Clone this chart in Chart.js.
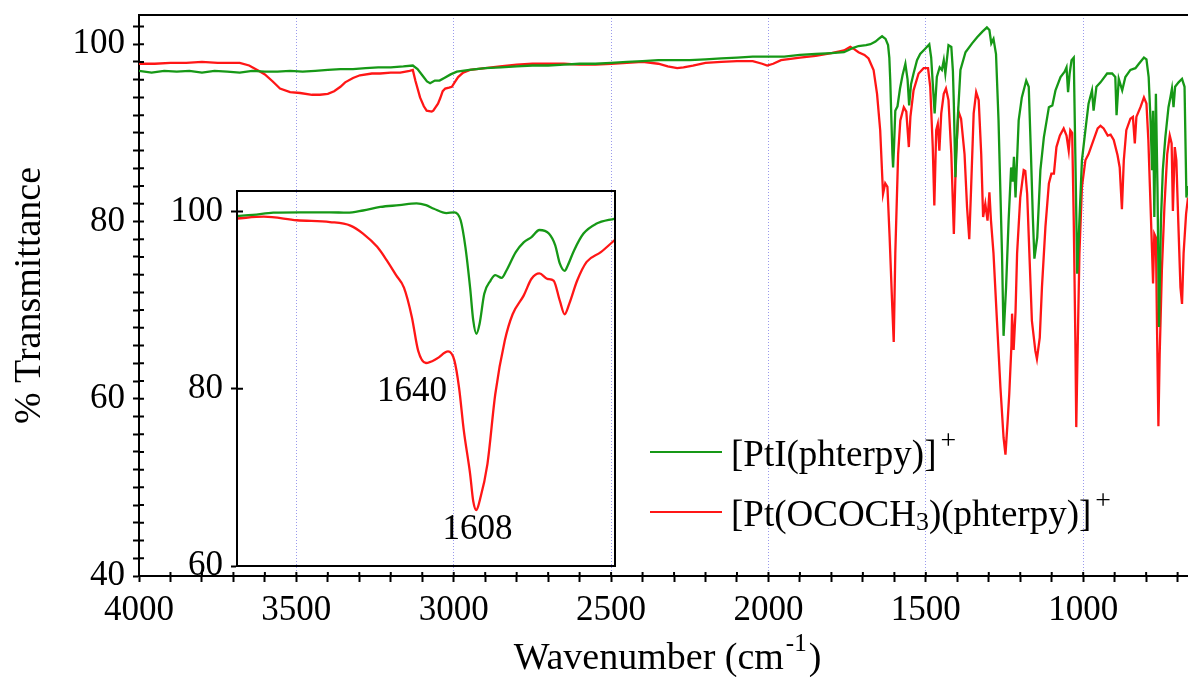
<!DOCTYPE html>
<html>
<head>
<meta charset="utf-8">
<title>IR spectra</title>
<script src="https://cdn.jsdelivr.net/npm/chart.js@4.4.0/dist/chart.umd.min.js"></script>
<style>
  html, body { margin: 0; padding: 0; background: #fff; }
  #wrap { position: relative; width: 1188px; height: 677px; overflow: hidden; }
  #main { position: absolute; left: 0; top: 0; }
  #inset { position: absolute; left: 150px; top: 181px; }
</style>
</head>
<body>
<div id="wrap">
  <canvas id="main" width="1188" height="677"></canvas>
  <canvas id="inset" width="470" height="410"></canvas>
</div>
<script>
// [PtI(phterpy)]+ spectrum, wavenumber (cm-1) / % transmittance
const ptiWn = [
  4000, 3960, 3920, 3880, 3840, 3800, 3760, 3720, 3680, 3640,
  3600, 3560, 3520, 3480, 3440, 3400, 3360, 3320, 3280, 3240,
  3200, 3160, 3130, 3115, 3100, 3085, 3075, 3060, 3045, 3030,
  3010, 2990, 2950, 2900, 2850, 2800, 2750, 2700, 2650, 2600,
  2550, 2500, 2450, 2400, 2350, 2300, 2250, 2200, 2150, 2100,
  2050, 2000, 1950, 1900, 1850, 1800, 1760, 1730, 1714, 1690,
  1676, 1660, 1650, 1639, 1628, 1620, 1616, 1613, 1609, 1606,
  1604, 1601, 1597, 1590, 1582, 1574, 1565, 1558, 1553, 1547,
  1539, 1528, 1518, 1502, 1489, 1483, 1478, 1472, 1465, 1456,
  1449, 1443, 1438, 1428, 1419, 1414, 1411, 1406, 1399, 1390,
  1374, 1353, 1337, 1321, 1306, 1298, 1292, 1285, 1277, 1269,
  1258, 1253, 1245, 1237, 1229, 1224, 1220, 1215, 1205, 1195,
  1181, 1173, 1166, 1160, 1155, 1146, 1136, 1125, 1109, 1098,
  1088, 1072, 1059, 1053, 1048, 1043, 1037, 1030, 1025, 1019,
  1012, 1004, 993, 983, 972, 967, 958, 945, 924, 908,
  898, 894, 887, 876, 866, 850, 834, 823, 807, 799,
  792, 786, 781, 778, 774, 769, 764, 759, 753, 747,
  739, 729, 723, 718, 713, 708, 697, 686, 678, 672,
  667
];
const ptiT = [
  97.0, 96.8, 97.0, 96.9, 97.0, 96.8, 97.0, 96.9, 96.8, 97.0,
  96.9, 96.9, 97.0, 96.9, 97.0, 97.1, 97.2, 97.2, 97.3, 97.4,
  97.4, 97.5, 97.6, 97.2, 96.5, 95.8, 95.6, 95.9, 95.9, 96.2,
  96.6, 96.9, 97.1, 97.3, 97.4, 97.5, 97.6, 97.6, 97.7, 97.8,
  97.8, 97.9, 98.0, 98.1, 98.2, 98.2, 98.2, 98.3, 98.4, 98.5,
  98.6, 98.6, 98.6, 98.8, 98.9, 99.0, 99.1, 99.6, 99.8, 99.9,
  100.0, 100.3, 100.6, 100.9, 100.6, 99.9, 98.5, 95.9, 91.0, 87.5,
  86.1, 88.5, 92.5, 93.0, 95.0, 96.5, 97.8, 96.0, 93.1, 95.5,
  96.7, 98.2, 98.9, 99.5, 100.0, 98.5, 95.6, 92.2, 96.3, 97.4,
  97.1, 98.2, 96.7, 99.9, 99.7, 97.0, 93.3, 85.0, 91.4, 97.1,
  99.1, 100.1, 100.8, 101.4, 101.9, 101.6, 100.1, 100.6, 98.9, 91.4,
  76.4, 67.1, 72.6, 80.1, 86.1, 84.5, 87.3, 82.7, 91.4, 94.0,
  95.9, 95.2, 87.6, 80.5, 75.8, 78.2, 85.8, 89.5, 92.9, 93.1,
  94.8, 96.3, 96.9, 97.4, 94.6, 96.7, 98.2, 98.5, 87.6, 74.1,
  80.1, 86.9, 90.3, 93.3, 94.8, 92.5, 95.2, 95.7, 96.7, 96.7,
  96.3, 92.0, 96.1, 94.8, 96.3, 97.1, 97.3, 97.8, 98.5, 98.3,
  96.3, 91.4, 85.8, 92.5, 80.5, 94.4, 83.9, 68.1, 80.1, 85.8,
  89.5, 92.9, 94.0, 95.0, 92.9, 95.2, 95.7, 96.1, 95.2, 82.7,
  84.0
];

// [Pt(OCOCH3)(phterpy)]+ spectrum
const acetateWn = [
  4000, 3950, 3900, 3850, 3800, 3750, 3700, 3680, 3650, 3620,
  3600, 3575, 3552, 3520, 3488, 3450, 3425, 3400, 3380, 3360,
  3345, 3320, 3298, 3260, 3234, 3200, 3170, 3140, 3130, 3122,
  3107, 3095, 3086, 3070, 3065, 3050, 3043, 3035, 3027, 3015,
  3006, 2995, 2986, 2970, 2948, 2900, 2853, 2800, 2750, 2700,
  2650, 2600, 2550, 2500, 2450, 2400, 2350, 2320, 2290, 2270,
  2240, 2200, 2150, 2100, 2050, 2020, 2004, 1985, 1960, 1900,
  1850, 1800, 1760, 1740, 1730, 1714, 1695, 1682, 1666, 1655,
  1645, 1636, 1629, 1622, 1615, 1607, 1602, 1597, 1588, 1581,
  1570, 1562, 1554, 1549, 1539, 1523, 1507, 1493, 1486, 1478,
  1473, 1467, 1462, 1457, 1451, 1443, 1436, 1428, 1419, 1411,
  1404, 1396, 1388, 1377, 1369, 1362, 1356, 1348, 1340, 1332,
  1324, 1318, 1311, 1304, 1298, 1293, 1285, 1274, 1263, 1253,
  1247, 1240, 1235, 1228, 1226, 1221, 1215, 1210, 1200, 1189,
  1184, 1178, 1171, 1163, 1152, 1147, 1138, 1131, 1120, 1109,
  1101, 1093, 1085, 1074, 1062, 1053, 1046, 1041, 1035, 1030,
  1025, 1022, 1018, 1012, 1004, 993, 983, 967, 954, 945,
  935, 922, 913, 903, 891, 884, 877, 871, 863, 850,
  842, 836, 831, 818, 807, 799, 793, 788, 781, 778,
  774, 769, 765, 761, 757, 750, 742, 733, 725, 719,
  715, 709, 704, 698, 691, 686, 681, 673, 667
];
const acetateT = [
  97.8, 97.8, 97.9, 97.9, 98.0, 97.9, 97.9, 97.9, 97.6, 97.0,
  96.6, 95.8, 95.0, 94.6, 94.5, 94.3, 94.3, 94.4, 94.7, 95.2,
  95.7, 96.2, 96.5, 96.7, 96.7, 96.8, 96.8, 97.0, 97.1, 95.9,
  94.0, 93.0, 92.5, 92.4, 92.5, 93.3, 93.9, 94.7, 95.0, 95.1,
  95.2, 95.8, 96.3, 96.8, 97.1, 97.3, 97.5, 97.7, 97.8, 97.8,
  97.8, 97.7, 97.7, 97.8, 97.9, 98.0, 97.8, 97.5, 97.3, 97.4,
  97.6, 97.9, 98.0, 98.1, 98.1, 97.8, 97.6, 97.8, 98.2, 98.5,
  98.7, 99.0, 99.3, 99.7, 99.5, 99.1, 98.8, 98.4, 97.1, 94.4,
  90.3, 83.1, 84.3, 83.9, 78.2, 70.7, 66.4, 76.4, 87.6, 91.4,
  92.9, 92.4, 88.4, 91.8, 94.8, 96.7, 97.3, 97.3, 95.2, 88.4,
  81.8, 90.3, 91.0, 88.0, 92.2, 94.4, 95.0, 93.7, 87.6, 78.6,
  87.6, 92.4, 91.6, 87.6, 81.6, 78.0, 83.9, 92.2, 94.6, 93.7,
  87.6, 80.5, 82.0, 80.1, 83.3, 80.1, 76.4, 68.8, 61.3, 55.6,
  53.7, 57.5, 60.5, 66.0, 69.6, 65.5, 69.8, 76.4, 82.7, 85.8,
  85.7, 83.1, 76.4, 68.8, 65.4, 64.5, 66.9, 72.6, 79.4, 84.3,
  85.4, 85.4, 88.4, 89.7, 90.5, 89.7, 88.0, 90.3, 90.0, 80.1,
  66.9, 56.8, 65.0, 76.4, 83.9, 86.9, 87.6, 89.2, 90.5, 90.8,
  90.5, 89.7, 89.8, 89.2, 87.5, 86.1, 81.4, 86.9, 90.3, 91.6,
  91.8, 88.8, 91.8, 92.9, 94.0, 93.3, 89.2, 83.9, 76.4, 73.0,
  78.6, 78.2, 66.9, 56.9, 65.0, 74.5, 81.6, 87.6, 89.7, 88.8,
  81.2, 88.4, 86.9, 80.1, 72.6, 70.7, 76.4, 80.9, 82.7
];

// expanded C=N / C=O region
const insetPtiWn = [
  1760, 1750, 1737, 1720, 1701, 1690, 1680, 1669, 1657, 1646,
  1640, 1635, 1627, 1622, 1618, 1615, 1612, 1610, 1608, 1606,
  1603, 1599, 1596, 1592, 1589, 1583, 1578, 1573, 1568, 1562,
  1558, 1555, 1552, 1550, 1546, 1540, 1532, 1520
];
const insetPtiT = [
  99.5, 99.6, 99.85, 99.9, 99.9, 99.85, 100.1, 100.5, 100.7, 100.9,
  100.7, 100.3, 99.8, 99.9, 99.0, 96.0, 91.4, 87.7, 86.2, 87.3,
  90.7, 92.2, 92.8, 92.5, 93.3, 95.4, 96.5, 97.1, 97.9, 97.5,
  96.2, 94.1, 93.3, 93.9, 95.6, 97.5, 98.6, 99.2
];
const insetAcetateWn = [
  1760, 1743, 1722, 1701, 1688, 1680, 1671, 1665, 1659, 1654,
  1649, 1645, 1640, 1633, 1626, 1622, 1619, 1616, 1612, 1610,
  1608, 1606, 1601, 1596, 1590, 1585, 1578, 1573, 1568, 1563,
  1559, 1555, 1552, 1549, 1544, 1538, 1529, 1520
];
const insetAcetateT = [
  99.2, 99.4, 99.0, 98.8, 98.4, 97.5, 96.0, 94.5, 92.8, 91.4,
  88.1, 84.3, 82.9, 83.4, 84.2, 83.2, 80.1, 75.3, 70.4, 67.3,
  66.3, 67.3, 71.5, 79.4, 85.4, 88.4, 90.5, 92.4, 93.0, 92.4,
  92.2, 89.9, 88.4, 89.6, 92.2, 94.3, 95.4, 96.8
];

const xTickLabels = [4000, 3500, 3000, 2500, 2000, 1500, 1000];
const yTickLabels = [40, 60, 80, 100];
const insetYTickLabels = [60, 80, 100];
const peakLabels = [1640, 1608];

const PTI_COLOR = 'rgb(22, 152, 22)';
const ACETATE_COLOR = 'rgb(255, 22, 22)';
const SERIF = '"Liberation Serif", "Times New Roman", serif';

function toPoints(xs, ys) {
  return xs.map((x, i) => ({ x: x, y: ys[i] }));
}

// keep the plot box where it is: no extra room for overhanging end labels
function noOverhang(scale) {
  scale.paddingTop = 0;
  scale.paddingBottom = 0;
  scale.paddingLeft = 0;
  scale.paddingRight = 0;
}

// the half of each tick mark that points into the plot
function innerTicks(ctx, chart, xLen, yLen) {
  const a = chart.chartArea;
  const { x, y } = chart.scales;
  ctx.beginPath();
  if (x.options.display) {
    x.ticks.forEach(t => {
      const px = x.getPixelForValue(t.value);
      ctx.moveTo(px, a.bottom);
      ctx.lineTo(px, a.bottom - xLen);
    });
  }
  y.ticks.forEach(t => {
    const py = y.getPixelForValue(t.value);
    ctx.moveTo(a.left, py);
    ctx.lineTo(a.left + yLen, py);
  });
  ctx.stroke();
}

// text with optional sub/superscript pieces, returns end x
function drawRich(ctx, parts, x, baseline, size) {
  parts.forEach(p => {
    let fs = size, dy = 0;
    if (p.sub) { fs = size * 0.7; dy = size * 0.12; }
    if (p.sup) { fs = size * 0.75; dy = -size * 0.45; x += 4; }
    ctx.font = fs + 'px ' + SERIF;
    ctx.fillText(p.t, x, baseline + dy);
    x += ctx.measureText(p.t).width;
  });
  return x;
}

const legendItems = [
  { color: PTI_COLOR, parts: [{ t: '[PtI(phterpy)]' }, { t: '+', sup: true }] },
  { color: ACETATE_COLOR, parts: [{ t: '[Pt(OCOCH' }, { t: '3', sub: true }, { t: ')(phterpy)]' }, { t: '+', sup: true }] }
];

const mainDecor = {
  id: 'mainDecor',
  afterDraw(chart) {
    const ctx = chart.ctx;
    const a = chart.chartArea;
    ctx.save();
    ctx.strokeStyle = '#000';
    ctx.lineWidth = 2;
    ctx.beginPath();
    ctx.moveTo(a.left - 1, a.top);
    ctx.lineTo(a.right, a.top);
    ctx.stroke();
    innerTicks(ctx, chart, 4, 5);

    // x axis title with superscript
    ctx.fillStyle = '#000';
    ctx.textBaseline = 'alphabetic';
    ctx.textAlign = 'left';
    const cx = (a.left + a.right) / 2 + 4;
    ctx.font = '38px ' + SERIF;
    const w1 = ctx.measureText('Wavenumber (cm').width;
    const w3 = ctx.measureText(')').width;
    ctx.font = '25px ' + SERIF;
    const w2 = ctx.measureText('-1').width;
    let x0 = cx - (w1 + w2 + w3 + 4) / 2;
    ctx.font = '38px ' + SERIF;
    ctx.fillText('Wavenumber (cm', x0, 669);
    ctx.font = '25px ' + SERIF;
    ctx.fillText('-1', x0 + w1 + 2, 651);
    ctx.font = '38px ' + SERIF;
    ctx.fillText(')', x0 + w1 + w2 + 4, 669);

    // legend
    legendItems.forEach((item, i) => {
      const ly = 452 + i * 60;
      ctx.strokeStyle = item.color;
      ctx.lineWidth = 2;
      ctx.beginPath();
      ctx.moveTo(650, ly);
      ctx.lineTo(722, ly);
      ctx.stroke();
      ctx.fillStyle = '#000';
      drawRich(ctx, item.parts, 731, ly + 14, 37);
    });
    ctx.restore();
  }
};

const insetDecor = {
  id: 'insetDecor',
  afterDraw(chart) {
    const ctx = chart.ctx;
    const a = chart.chartArea;
    const { x, y } = chart.scales;
    ctx.save();
    ctx.strokeStyle = '#000';
    ctx.lineWidth = 2;
    ctx.strokeRect(a.left, a.top, a.right - a.left, a.bottom - a.top);
    innerTicks(ctx, chart, 0, 6);

    // peak positions of the acetate complex
    ctx.fillStyle = '#000';
    ctx.font = '35px ' + SERIF;
    ctx.textAlign = 'center';
    ctx.textBaseline = 'middle';
    const offsets = [[-14, 29], [1, 20]];
    peakLabels.forEach((wn, i) => {
      const k = insetAcetateWn.indexOf(wn);
      const px = x.getPixelForValue(wn) + offsets[i][0];
      const py = y.getPixelForValue(insetAcetateT[k]) + offsets[i][1];
      ctx.fillText(String(wn), px, py);
    });
    ctx.restore();
  }
};

const tickFont = { family: SERIF, size: 35 };

new Chart(document.getElementById('main'), {
  type: 'line',
  data: {
    datasets: [
      { label: '[PtI(phterpy)]+', data: toPoints(ptiWn, ptiT), borderColor: PTI_COLOR },
      { label: '[Pt(OCOCH3)(phterpy)]+', data: toPoints(acetateWn, acetateT), borderColor: ACETATE_COLOR }
    ]
  },
  options: {
    responsive: false,
    animation: false,
    parsing: false,
    layout: { padding: { top: 15, right: 0, bottom: 0, left: 0 } },
    elements: {
      point: { radius: 0 },
      line: { borderWidth: 2.3, tension: 0 }
    },
    plugins: { legend: { display: false }, tooltip: { enabled: false } },
    scales: {
      x: {
        type: 'linear',
        reverse: true,
        min: 667,
        max: 4000,
        afterFit(scale) { scale.height = 101; noOverhang(scale); },
        ticks: {
          stepSize: 100,
          autoSkip: false,
          maxRotation: 0,
          minRotation: 0,
          includeBounds: false,
          padding: 8,
          color: '#000',
          font: tickFont,
          callback: v => xTickLabels.includes(v) ? String(v) : ''
        },
        grid: {
          drawOnChartArea: true,
          color: c => (c.tick && c.tick.value % 500 === 0 && c.tick.value !== 4000) ? 'rgba(120, 120, 230, 0.75)' : 'rgba(0,0,0,0)',
          lineWidth: 1,
          tickColor: '#000',
          tickLength: 6,
          tickWidth: 2
        },
        border: { color: '#000', width: 2, dash: [1, 2] }
      },
      y: {
        min: 40,
        max: 103.3,
        afterFit(scale) { scale.width = 139; noOverhang(scale); },
        ticks: {
          stepSize: 2,
          autoSkip: false,
          includeBounds: false,
          padding: 8,
          color: '#000',
          font: tickFont,
          callback: v => yTickLabels.includes(v) ? String(v) : ''
        },
        grid: { drawOnChartArea: false, tickColor: '#000', tickLength: 6, tickWidth: 2 },
        border: { color: '#000', width: 2 },
        title: {
          display: true,
          text: '% Transmittance',
          color: '#000',
          font: { family: SERIF, size: 38 },
          padding: { top: 7, bottom: 0 }
        }
      }
    }
  },
  plugins: [mainDecor]
});

new Chart(document.getElementById('inset'), {
  type: 'line',
  data: {
    datasets: [
      { label: '[PtI(phterpy)]+', data: toPoints(insetPtiWn, insetPtiT), borderColor: PTI_COLOR },
      { label: '[Pt(OCOCH3)(phterpy)]+', data: toPoints(insetAcetateWn, insetAcetateT), borderColor: ACETATE_COLOR }
    ]
  },
  options: {
    responsive: false,
    animation: false,
    parsing: false,
    layout: { padding: { top: 10, right: 5, bottom: 25, left: 0 } },
    elements: {
      point: { radius: 0 },
      line: { borderWidth: 2.3, cubicInterpolationMode: 'monotone' }
    },
    plugins: { legend: { display: false }, tooltip: { enabled: false } },
    scales: {
      x: { type: 'linear', reverse: true, min: 1520, max: 1760, display: false },
      y: {
        min: 60,
        max: 102.3,
        afterFit(scale) { scale.width = 87; noOverhang(scale); },
        ticks: {
          stepSize: 20,
          includeBounds: false,
          padding: 8,
          color: '#000',
          font: tickFont,
          callback: v => insetYTickLabels.includes(v) ? String(v) : ''
        },
        grid: { drawOnChartArea: false, tickColor: '#000', tickLength: 6, tickWidth: 2 },
        border: { color: '#000', width: 2 }
      }
    }
  },
  plugins: [insetDecor]
});
</script>
</body>
</html>
